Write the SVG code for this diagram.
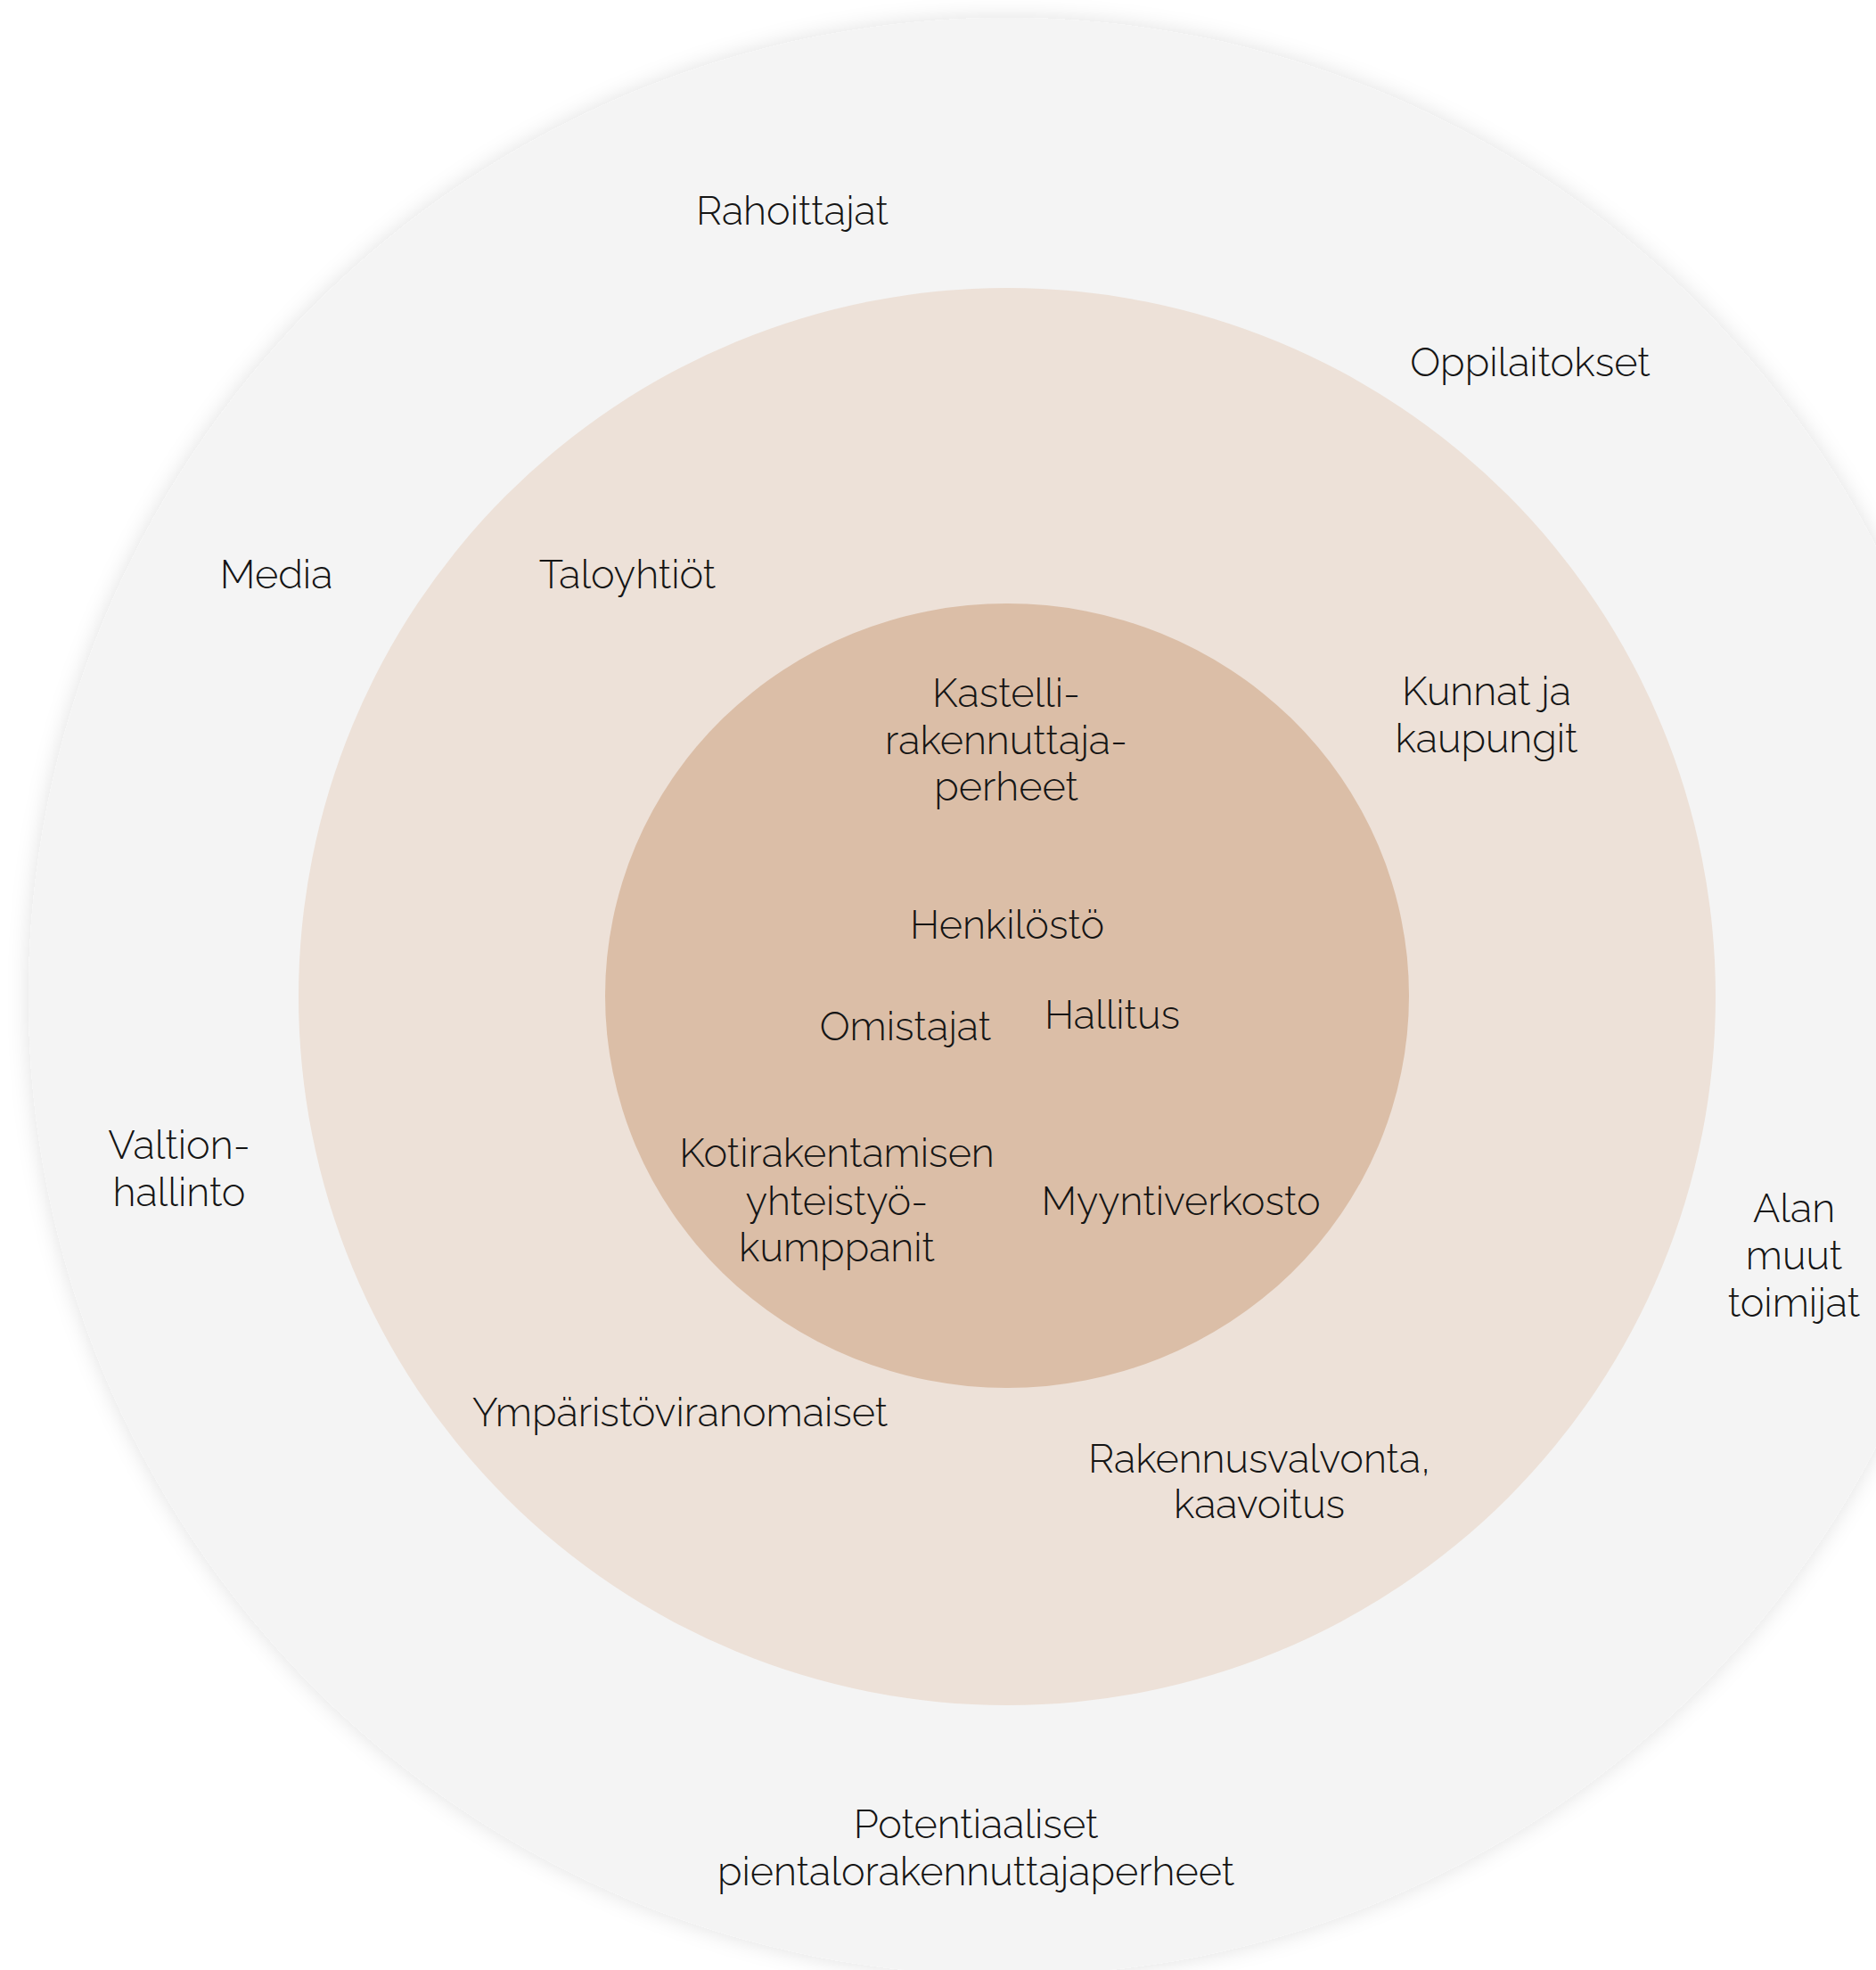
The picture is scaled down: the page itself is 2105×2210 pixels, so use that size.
<svg xmlns="http://www.w3.org/2000/svg" width="2105" height="2210" viewBox="0 0 2105 2210">
<defs>
<filter id="shadow" x="-10%" y="-10%" width="120%" height="120%">
<feDropShadow dx="0" dy="0" stdDeviation="12" flood-color="#000" flood-opacity="0.12"/>
</filter>
<style>
text{font-family:"Raleway","Lato","Noto Sans",sans-serif;font-weight:300;font-size:45px;fill:#151515;text-anchor:middle}
.outer{fill:#f4f4f4}
.middle{fill:#ede1d8}
.inner{fill:#dbbea7}
</style>
</defs>
<rect width="2105" height="2210" fill="#ffffff"/>
<g id="rings">
<circle id="outer-ring" class="outer" cx="1130" cy="1118" r="1098" filter="url(#shadow)"/>
<circle id="middle-ring" class="middle" cx="1130" cy="1118" r="795"/>
<ellipse id="inner-ring" class="inner" cx="1130" cy="1117" rx="451" ry="440"/>
</g>
<g id="connectors"></g>
<g id="n-rahoittajat"><text x="889" y="252">Rahoittajat</text></g>
<g id="n-oppilaitokset"><text x="1717" y="422">Oppilaitokset</text></g>
<g id="n-media"><text x="310" y="660">Media</text></g>
<g id="n-taloyhtiot"><text x="704" y="660">Taloyhtiöt</text></g>
<g id="n-kunnat"><text x="1668" y="791">Kunnat ja</text><text x="1668" y="844">kaupungit</text></g>
<g id="n-kastelli"><text x="1129" y="793">Kastelli-</text><text x="1129" y="846">rakennuttaja-</text><text x="1129" y="898">perheet</text></g>
<g id="n-henkilosto"><text x="1130" y="1053">Henkilöstö</text></g>
<g id="n-omistajat"><text x="1016" y="1167">Omistajat</text></g>
<g id="n-hallitus"><text x="1248" y="1154">Hallitus</text></g>
<g id="n-valtionhallinto"><text x="201" y="1300">Valtion-</text><text x="201" y="1353">hallinto</text></g>
<g id="n-kotirakentamisen"><text x="939" y="1309">Kotirakentamisen</text><text x="939" y="1363">yhteistyö-</text><text x="939" y="1415">kumppanit</text></g>
<g id="n-myyntiverkosto"><text x="1325" y="1363">Myyntiverkosto</text></g>
<g id="n-alan"><text x="2013" y="1371">Alan</text><text x="2013" y="1424">muut</text><text x="2013" y="1477">toimijat</text></g>
<g id="n-ymparisto"><text x="763" y="1600">Ympäristöviranomaiset</text></g>
<g id="n-rakennusvalvonta"><text x="1413" y="1652">Rakennusvalvonta,</text><text x="1413" y="1703">kaavoitus</text></g>
<g id="n-potentiaaliset"><text x="1095" y="2062">Potentiaaliset</text><text x="1095" y="2115">pientalorakennuttajaperheet</text></g>
</svg>
